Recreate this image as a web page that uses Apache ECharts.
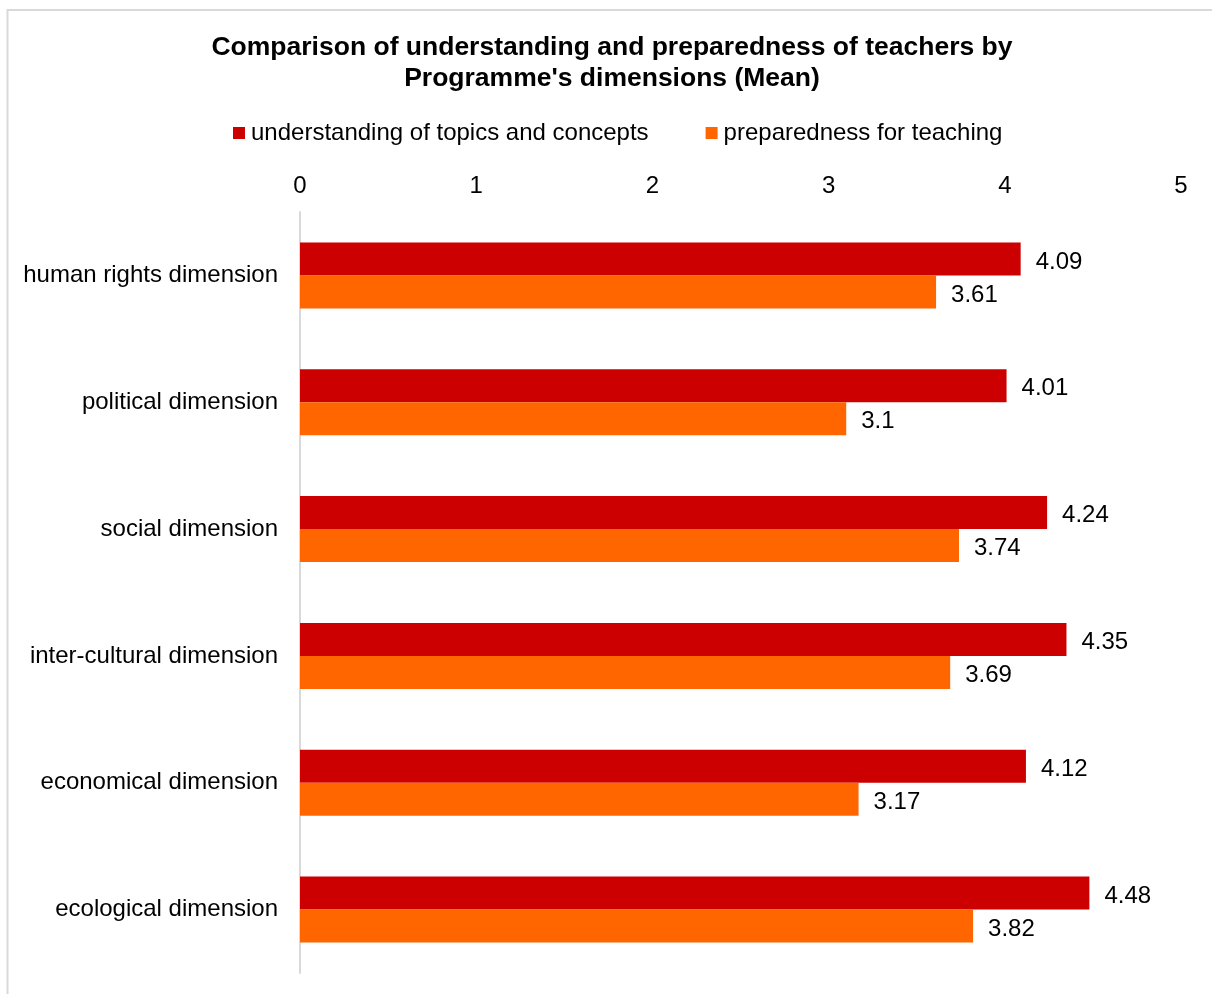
<!DOCTYPE html>
<html>
<head>
<meta charset="utf-8">
<script src="https://cdn.jsdelivr.net/npm/echarts@6/dist/echarts.min.js"></script>
<style>
  html, body { margin: 0; padding: 0; background: #fff; }
  #chart { width: 1212px; height: 994px; }
</style>
</head>
<body>
<div id="chart"></div>
<script>
// Programme dimensions, listed top to bottom
const categories = [
  'human rights dimension',
  'political dimension',
  'social dimension',
  'inter-cultural dimension',
  'economical dimension',
  'ecological dimension'
];
const seriesNames = ['understanding of topics and concepts', 'preparedness for teaching'];
const understanding = [4.09, 4.01, 4.24, 4.35, 4.12, 4.48];
const preparedness = [3.61, 3.1, 3.74, 3.69, 3.17, 3.82];
const xTicks = [0, 1, 2, 3, 4, 5];

const FONT = '"Liberation Sans", Arial, sans-serif';
const chart = echarts.init(document.getElementById('chart'), null, { renderer: 'canvas' });

const labelStyle = {
  show: true,
  position: 'right',
  distance: 15,
  offset: [0, 3],
  fontFamily: FONT,
  fontSize: 24,
  color: '#000'
};

chart.setOption({
  backgroundColor: '#fff',
  animation: false,
  graphic: [{
    type: 'rect',
    silent: true,
    shape: { x: 7.5, y: 10, width: 1400, height: 1200 },
    style: { fill: 'none', stroke: '#d9d9d9', lineWidth: 2 }
  }],
  title: {
    text: 'Comparison of understanding and preparedness of teachers by\nProgramme\'s dimensions (Mean)',
    left: 612,
    top: 32,
    padding: 0,
    textAlign: 'center',
    textStyle: {
      fontFamily: FONT,
      fontSize: 26.5,
      fontWeight: 'bold',
      color: '#000',
      lineHeight: 31
    }
  },
  legend: {
    data: seriesNames,
    left: 233,
    top: 121,
    padding: 0,
    itemWidth: 12,
    itemHeight: 12,
    itemGap: 57,
    icon: 'rect',
    textStyle: { fontFamily: FONT, fontSize: 24, color: '#000', padding: [0, 0, 0, 1] }
  },
  grid: { left: 300, right: 31, top: 212, bottom: 21, containLabel: false },
  xAxis: {
    type: 'value',
    position: 'top',
    min: xTicks[0],
    max: xTicks[xTicks.length - 1],
    interval: 1,
    axisLine: { show: false },
    axisTick: { show: false },
    splitLine: { show: false },
    axisLabel: { fontFamily: FONT, fontSize: 24, color: '#000', margin: 14 }
  },
  yAxis: {
    type: 'category',
    data: categories,
    inverse: true,
    axisLine: { show: true, lineStyle: { color: '#d9d9d9', width: 2 } },
    axisTick: { show: false },
    axisLabel: { fontFamily: FONT, fontSize: 24, color: '#000', margin: 22, padding: [4, 0, 0, 0] }
  },
  series: [
    {
      name: seriesNames[0],
      type: 'bar',
      data: understanding,
      barWidth: 33,
      barGap: '0%',
      itemStyle: { color: '#cc0000' },
      label: labelStyle
    },
    {
      name: seriesNames[1],
      type: 'bar',
      data: preparedness,
      barWidth: 33,
      barGap: '0%',
      itemStyle: { color: '#ff6600' },
      label: labelStyle
    }
  ]
});
</script>
</body>
</html>
